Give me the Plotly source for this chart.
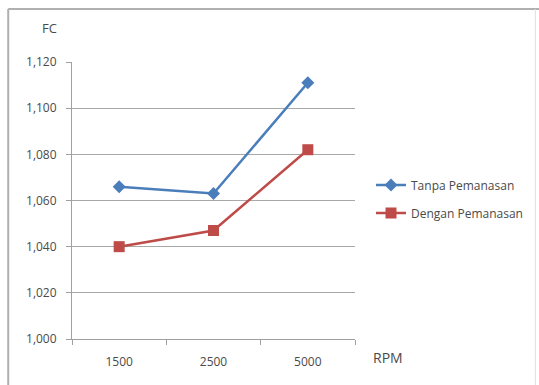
import plotly.graph_objects as go

rpm = ["1500", "2500", "5000"]
tanpa = [1.066, 1.063, 1.111]
dengan = [1.040, 1.047, 1.082]
y_ticks = [1.000, 1.020, 1.040, 1.060, 1.080, 1.100, 1.120]

W, H = 539, 385
L, R, T, B = 72, 183, 62, 46
pw, ph = W - L - R, H - T - B

def px(x):
    return (x - L) / pw

def py(y):
    return (H - B - y) / ph

FAM = "'Open Sans', Lato, sans-serif"
COL = "#4A4A4A"
font = dict(family=FAM, size=12, color=COL)

fig = go.Figure()
fig.add_trace(go.Scatter(
    x=rpm, y=tanpa, name="Tanpa Pemanasan", mode="lines+markers",
    line=dict(color="#4A7EBB", width=2.5),
    marker=dict(symbol="diamond", size=10, color="#4A7EBB"),
    legend="legend",
))
fig.add_trace(go.Scatter(
    x=rpm, y=dengan, name="Dengan Pemanasan", mode="lines+markers",
    line=dict(color="#BE4B48", width=2.5),
    marker=dict(symbol="square", size=11, color="#BE4B48"),
    legend="legend2",
))

leg_common = dict(font=font, bgcolor="rgba(0,0,0,0)", xanchor="left", yanchor="middle",
                  itemwidth=30)
fig.update_layout(
    width=W, height=H,
    margin=dict(l=L, r=R, t=T, b=B),
    paper_bgcolor="white", plot_bgcolor="white",
    separators=",.",
    font=font,
    showlegend=True,
    legend=dict(x=px(371), y=py(185), **leg_common),
    legend2=dict(x=px(371), y=py(213), **leg_common),
    xaxis=dict(
        type="category", range=[-0.5, 2.5],
        showgrid=False, showline=True, linecolor="#A0A0A0", linewidth=1,
        ticks="outside", tickson="boundaries", ticklen=5, tickcolor="#A0A0A0",
        tickfont=font, fixedrange=True, ticklabelstandoff=12,
    ),
    yaxis=dict(
        range=[1.0, 1.12], tickvals=y_ticks, tickformat=".3f",
        showgrid=True, gridcolor="#A8A8A8", gridwidth=1,
        showline=True, linecolor="#A0A0A0", linewidth=1,
        ticks="outside", ticklen=5, tickcolor="#A0A0A0",
        tickfont=font, zeroline=False, ticklabelstandoff=7,
    ),
    annotations=[
        dict(text="FC", xref="paper", yref="paper", x=px(49), y=py(28),
             showarrow=False, font=dict(family=FAM, size=13, color=COL),
             xanchor="center", yanchor="middle"),
        dict(text="RPM", xref="paper", yref="paper", x=px(389), y=py(357),
             showarrow=False, font=dict(family=FAM, size=14, color=COL),
             xanchor="center", yanchor="middle"),
    ],
    shapes=[
        dict(type="line", xref="paper", yref="paper", x0=px(8), x1=px(545),
             y0=py(9), y1=py(9), line=dict(color="#B0B0B0", width=2)),
        dict(type="line", xref="paper", yref="paper", x0=px(8), x1=px(8),
             y0=py(9), y1=py(390), line=dict(color="#B0B0B0", width=2)),
        dict(type="line", xref="paper", yref="paper", x0=px(537), x1=px(537),
             y0=py(9), y1=py(390), line=dict(color="#E0E0E0", width=1)),
    ],
)

fig.write_html("out.html")
